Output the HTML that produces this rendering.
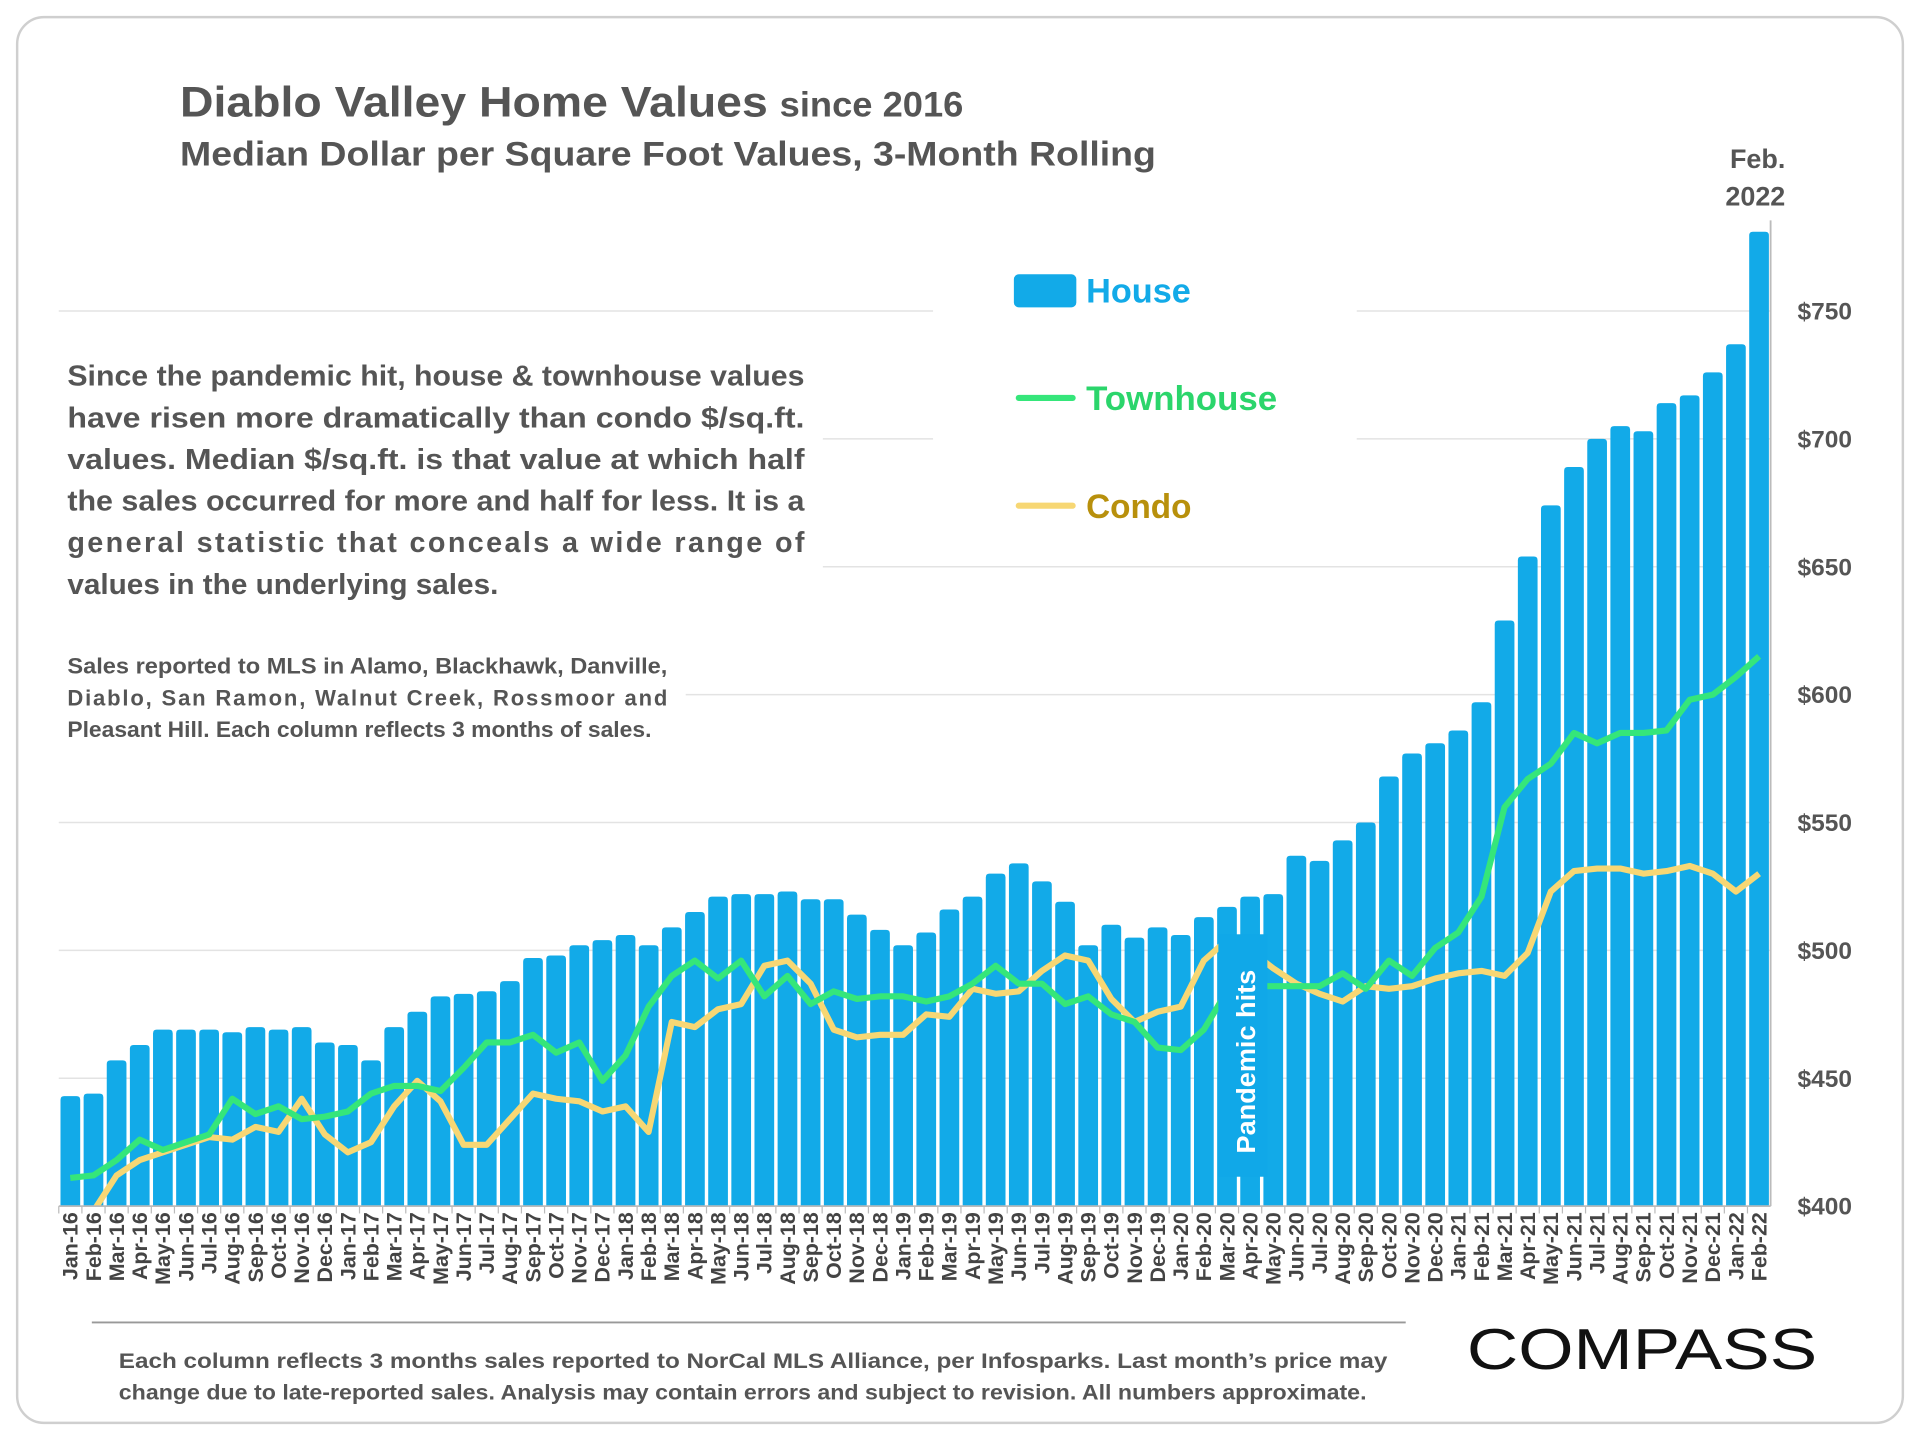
<!DOCTYPE html>
<html><head><meta charset="utf-8"><style>
html,body{margin:0;padding:0;background:#fff;}
svg{display:block;}
text{font-family:"Liberation Sans",sans-serif;}
</style></head><body>
<svg id="chart" width="1920" height="1440" viewBox="0 0 1568 1176" xmlns="http://www.w3.org/2000/svg">
<rect x="14" y="14" width="1540" height="1148" rx="22" fill="#fff" stroke="#cfcfcf" stroke-width="2"/>
<text x="147" y="95" font-size="35" font-weight="bold" fill="#555"><tspan textLength="480" lengthAdjust="spacingAndGlyphs">Diablo Valley Home Values</tspan> <tspan font-size="29" textLength="150" lengthAdjust="spacingAndGlyphs">since 2016</tspan></text>
<text x="147" y="135" font-size="28" font-weight="bold" fill="#555" textLength="797" lengthAdjust="spacingAndGlyphs">Median Dollar per Square Foot Values, 3-Month Rolling</text>
<text x="1458" y="137" font-size="22" font-weight="bold" fill="#555" text-anchor="end">Feb.</text>
<text x="1458" y="168" font-size="22" font-weight="bold" fill="#555" text-anchor="end">2022</text>
<g id="grid"></g>
<g id="bars"></g>
<g id="lines"></g>
<g id="axes"></g>
<rect x="40" y="262" width="632" height="240" fill="#fff"/>
<rect x="40" y="502" width="520" height="112" fill="#fff"/>
<rect x="762" y="195" width="346" height="250" fill="#fff"/>
<g font-size="23.5" font-weight="bold" fill="#555">
<text x="55" y="315" textLength="602" lengthAdjust="spacingAndGlyphs">Since the pandemic hit, house &amp; townhouse values</text>
<text x="55" y="349" textLength="602" lengthAdjust="spacingAndGlyphs">have risen more dramatically than condo $/sq.ft.</text>
<text x="55" y="383" textLength="602" lengthAdjust="spacingAndGlyphs">values. Median $/sq.ft. is that value at which half</text>
<text x="55" y="417" textLength="602" lengthAdjust="spacingAndGlyphs">the sales occurred for more and half for less. It is a</text>
<text x="55" y="451" textLength="602" lengthAdjust="spacing">general statistic that conceals a wide range of</text>
<text x="55" y="485" textLength="352" lengthAdjust="spacingAndGlyphs">values in the underlying sales.</text>
</g>
<g font-size="18" font-weight="bold" fill="#555">
<text x="55" y="550" textLength="490" lengthAdjust="spacingAndGlyphs">Sales reported to MLS in Alamo, Blackhawk, Danville,</text>
<text x="55" y="576" textLength="490" lengthAdjust="spacing">Diablo, San Ramon, Walnut Creek, Rossmoor and</text>
<text x="55" y="602" textLength="477" lengthAdjust="spacingAndGlyphs">Pleasant Hill. Each column reflects 3 months of sales.</text>
</g>
<g>
<rect x="828" y="224" width="51" height="27" rx="4" fill="#12aae8"/>
<text x="887" y="247" font-size="28" font-weight="bold" fill="#12aae8">House</text>
<line x1="832" y1="325" x2="876" y2="325" stroke="#35e67a" stroke-width="5" stroke-linecap="round"/>
<text x="887" y="335" font-size="28" font-weight="bold" fill="#2bd56b" textLength="156" lengthAdjust="spacingAndGlyphs">Townhouse</text>
<line x1="832" y1="413" x2="876" y2="413" stroke="#f7d774" stroke-width="5" stroke-linecap="round"/>
<text x="887" y="423" font-size="28" font-weight="bold" fill="#b8900c" textLength="86" lengthAdjust="spacingAndGlyphs">Condo</text>
</g>
<g>
<rect x="995" y="763" width="40" height="198" fill="#10a8e8"/>
<text transform="translate(1025,942) rotate(-90)" font-size="21" font-weight="bold" fill="#fff" textLength="150" lengthAdjust="spacingAndGlyphs">Pandemic hits</text>
</g>
<line x1="75" y1="1080" x2="1148" y2="1080" stroke="#999" stroke-width="1.5"/>
<g font-size="17.5" font-weight="bold" fill="#555">
<text x="97" y="1117" textLength="1036" lengthAdjust="spacingAndGlyphs">Each column reflects 3 months sales reported to NorCal MLS Alliance, per Infosparks. Last month’s price may</text>
<text x="97" y="1143" textLength="1019" lengthAdjust="spacingAndGlyphs">change due to late-reported sales. Analysis may contain errors and subject to revision. All numbers approximate.</text>
</g>
<text x="1198" y="1118" font-size="47" fill="#111" textLength="286" lengthAdjust="spacingAndGlyphs">COMPASS</text>
</svg>
<script>
const months = ["Jan-16","Feb-16","Mar-16","Apr-16","May-16","Jun-16","Jul-16","Aug-16","Sep-16","Oct-16","Nov-16","Dec-16","Jan-17","Feb-17","Mar-17","Apr-17","May-17","Jun-17","Jul-17","Aug-17","Sep-17","Oct-17","Nov-17","Dec-17","Jan-18","Feb-18","Mar-18","Apr-18","May-18","Jun-18","Jul-18","Aug-18","Sep-18","Oct-18","Nov-18","Dec-18","Jan-19","Feb-19","Mar-19","Apr-19","May-19","Jun-19","Jul-19","Aug-19","Sep-19","Oct-19","Nov-19","Dec-19","Jan-20","Feb-20","Mar-20","Apr-20","May-20","Jun-20","Jul-20","Aug-20","Sep-20","Oct-20","Nov-20","Dec-20","Jan-21","Feb-21","Mar-21","Apr-21","May-21","Jun-21","Jul-21","Aug-21","Sep-21","Oct-21","Nov-21","Dec-21","Jan-22","Feb-22"];
const houseValues = [443,444,457,463,469,469,469,468,470,469,470,464,463,457,470,476,482,483,484,488,497,498,502,504,506,502,509,515,521,522,522,523,520,520,514,508,502,507,516,521,530,534,527,519,502,510,505,509,506,513,517,521,522,537,535,543,550,568,577,581,586,597,629,654,674,689,700,705,703,714,717,726,737,781];
const townhouseValues = [411,412,418,426,422,425,428,442,436,439,434,435,437,444,447,447,445,454,464,464,467,460,464,449,459,478,490,496,489,496,482,490,479,484,481,482,482,480,482,487,494,487,487,479,482,475,472,462,461,469,484,486,486,486,486,491,485,496,490,501,507,521,556,567,573,585,581,585,585,586,598,600,607,615];
const condoValues = [385,398,412,418,421,424,427,426,431,429,442,428,421,425,439,449,441,424,424,434,444,442,441,437,439,429,472,470,477,479,494,496,487,469,466,467,467,475,474,485,483,484,492,498,496,481,472,476,478,496,504,500,493,487,483,480,486,485,486,489,491,492,490,499,523,531,532,532,530,531,533,530,523,530];
const yTicks = [400,450,500,550,600,650,700,750];
const yTickLabels = ["$400","$450","$500","$550","$600","$650","$700","$750"];

const NS="http://www.w3.org/2000/svg";
const X0=48, X1=1446, Y0=985;
const slot=(X1-X0)/months.length;
function xC(i){return X0+slot*(i+0.5);}
function yV(v){return Y0-(v-400)*(731/350);}
function mk(tag,attrs,parent){const e=document.createElementNS(NS,tag);for(const k in attrs)e.setAttribute(k,attrs[k]);parent.appendChild(e);return e;}

const grid=document.getElementById('grid');
yTicks.forEach((t,i)=>{
  if(i>0){const l=mk('line',{x1:X0,x2:X1,y1:yV(t),y2:yV(t),stroke:'#e3e3e3','stroke-width':1.2},grid);
  
  }
});
const bars=document.getElementById('bars');
houseValues.forEach((v,i)=>{
  const w=slot-2.8, y=yV(v);
  const r=mk('path',{d:`M${xC(i)-w/2},${Y0}V${y+3}Q${xC(i)-w/2},${y} ${xC(i)-w/2+3},${y}H${xC(i)+w/2-3}Q${xC(i)+w/2},${y} ${xC(i)+w/2},${y+3}V${Y0}Z`,fill:'#12aae8'},bars);
  
  
});
const lines=document.getElementById('lines');
const cp=mk('clipPath',{id:'plotclip'},lines);
mk('rect',{x:X0,y:0,width:X1-X0,height:Y0},cp);
function line(vals,color,name){
  const d=vals.map((v,i)=>(i?'L':'M')+xC(i).toFixed(1)+','+yV(v).toFixed(1)).join('');
  const p=mk('path',{d:d,fill:'none',stroke:color,'stroke-width':5,'stroke-linejoin':'round','clip-path':'url(#plotclip)'},lines);
  
  
}
line(condoValues,'#f7d774','condo-line');
line(townhouseValues,'#35e67a','townhouse-line');

const axes=document.getElementById('axes');
const xa=mk('line',{x1:X0,x2:X1,y1:Y0,y2:Y0,stroke:'#bbb','stroke-width':1.5},axes);


const ya=mk('line',{x1:X1,x2:X1,y1:180,y2:Y0,stroke:'#bbb','stroke-width':1.5},axes);


yTicks.forEach((t,i)=>{
  const tx=mk('text',{x:1468,y:yV(t)+7,'font-size':20,'font-weight':'bold',fill:'#555'},axes);
  tx.textContent=yTickLabels[i];
  
  
});
months.forEach((m,i)=>{
  const tk=mk('line',{x1:X0+slot*i,x2:X0+slot*i,y1:Y0,y2:Y0+6,stroke:'#bbb'},axes);
  
  
  const tx=mk('text',{transform:`translate(${xC(i)+6},${Y0+5}) rotate(-90)`,'font-size':17.5,'font-weight':'bold',fill:'#444','text-anchor':'end'},axes);
  tx.textContent=m;
  
  
});
</script>
</body></html>
